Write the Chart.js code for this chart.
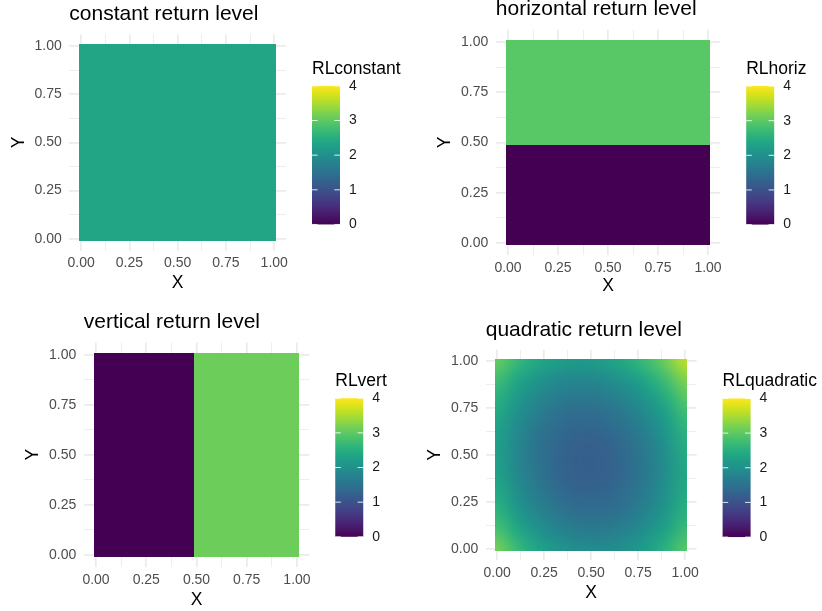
<!DOCTYPE html>
<html>
<head>
<meta charset="utf-8">
<script src="https://cdn.jsdelivr.net/npm/chart.js@4.4.1/dist/chart.umd.min.js"></script>
<style>
  html, body { margin: 0; padding: 0; background: #ffffff; }
  #wrap { position: relative; width: 822px; height: 611px; overflow: hidden; background: #ffffff; }
  #wrap canvas { position: absolute; left: 0; top: 0; }
</style>
</head>
<body>
<div id="wrap">
  <canvas id="pConst" width="822" height="611"></canvas>
  <canvas id="pHoriz" width="822" height="611"></canvas>
  <canvas id="pVert" width="822" height="611"></canvas>
  <canvas id="pQuad" width="822" height="611"></canvas>
</div>
<script>
// ---- axis breaks and labels ----
const axisBreaks = [0, 0.25, 0.5, 0.75, 1];
const axisLabels = ['0.00', '0.25', '0.50', '0.75', '1.00'];
const minorBreaks = [0.125, 0.375, 0.625, 0.875];
const rlBreaks = [0, 1, 2, 3, 4];
const rlLabels = ['0', '1', '2', '3', '4'];
const rlLimits = [0, 4];

// ---- return level data ----
const cellHalf = 0.01;            // half of the 0.02 grid spacing
const splitAt = 0.5;              // first grid value of the upper / right block
const constantRL = [2.35];
const horizRL = [0.0, 2.95];      // y below split, y from split up
const vertRL = [0.0, 3.1];        // x below split, x from split up
const quadX = [0, 0.1, 0.2, 0.3, 0.4, 0.5, 0.6, 0.7, 0.8, 0.9, 1];
const quadY = [0, 0.1, 0.2, 0.3, 0.4, 0.5, 0.6, 0.7, 0.8, 0.9, 1];
// rows run from Y = 0 up to Y = 1, columns from X = 0 to X = 1
const quadRL = [
  [3.15, 2.72, 2.37, 2.12, 1.97, 1.90, 1.93, 2.04, 2.25, 2.56, 2.95],
  [2.83, 2.41, 2.07, 1.83, 1.68, 1.62, 1.66, 1.78, 2.00, 2.31, 2.71],
  [2.59, 2.17, 1.84, 1.61, 1.46, 1.41, 1.45, 1.59, 1.81, 2.13, 2.54],
  [2.41, 1.99, 1.68, 1.45, 1.31, 1.27, 1.32, 1.46, 1.69, 2.01, 2.43],
  [2.29, 1.89, 1.58, 1.36, 1.23, 1.19, 1.25, 1.40, 1.64, 1.97, 2.39],
  [2.25, 1.85, 1.55, 1.34, 1.22, 1.19, 1.25, 1.41, 1.65, 1.99, 2.43],
  [2.27, 1.89, 1.59, 1.38, 1.27, 1.25, 1.32, 1.48, 1.74, 2.09, 2.52],
  [2.37, 1.98, 1.70, 1.50, 1.39, 1.38, 1.46, 1.63, 1.89, 2.24, 2.69],
  [2.53, 2.15, 1.87, 1.68, 1.58, 1.58, 1.66, 1.84, 2.11, 2.47, 2.93],
  [2.75, 2.39, 2.11, 1.93, 1.84, 1.84, 1.94, 2.12, 2.40, 2.77, 3.23],
  [3.05, 2.69, 2.42, 2.25, 2.17, 2.18, 2.28, 2.47, 2.75, 3.13, 3.60]
];

// ---- styling ----
const FONT = "'Liberation Sans', Arial, Helvetica, sans-serif";
const viridisStops = ['#440154', '#471365', '#482475', '#463480', '#414487', '#3b528b',
  '#355f8d', '#2f6c8e', '#2a788e', '#25848e', '#21918c', '#1e9c89', '#22a884', '#2fb47c',
  '#44bf70', '#5ec962', '#7ad151', '#9bd93c', '#bddf26', '#dfe318', '#fde725'];
const stopRGB = viridisStops.map(h => [1, 3, 5].map(i => parseInt(h.substr(i, 2), 16)));

function viridisRGB(v) {
  let t = (v - rlLimits[0]) / (rlLimits[1] - rlLimits[0]);
  t = Math.min(1, Math.max(0, t)) * (stopRGB.length - 1);
  const i = Math.min(stopRGB.length - 2, Math.floor(t));
  const f = t - i;
  return stopRGB[i].map((c, k) => Math.round(c + (stopRGB[i + 1][k] - c) * f));
}
function viridisCss(v) { const c = viridisRGB(v); return `rgb(${c[0]},${c[1]},${c[2]})`; }

// blocks of equal return level, in data coordinates
const lo = -cellHalf, hi = 1 + cellHalf, cut = splitAt - cellHalf;
const constRects = [{ x0: lo, x1: hi, y0: lo, y1: hi, v: constantRL[0] }];
const horizRects = [
  { x0: lo, x1: hi, y0: lo, y1: cut, v: horizRL[0] },
  { x0: lo, x1: hi, y0: cut, y1: hi, v: horizRL[1] }
];
const vertRects = [
  { x0: lo, x1: cut, y0: lo, y1: hi, v: vertRL[0] },
  { x0: cut, x1: hi, y0: lo, y1: hi, v: vertRL[1] }
];

// draws the raster cells through the chart's x / y scales
function heatLayer(rects, field) {
  return {
    id: 'heatLayer',
    beforeDatasetsDraw(chart) {
      const { ctx } = chart;
      const xs = chart.scales.x, ys = chart.scales.y;
      ctx.save();
      rects.forEach(r => {
        const x0 = Math.round(xs.getPixelForValue(r.x0));
        const x1 = Math.round(xs.getPixelForValue(r.x1));
        const y0 = Math.round(ys.getPixelForValue(r.y1));
        const y1 = Math.round(ys.getPixelForValue(r.y0));
        ctx.fillStyle = viridisCss(r.v);
        ctx.fillRect(x0, y0, x1 - x0, y1 - y0);
      });
      if (field) {
        const nx = field.xs.length, ny = field.ys.length;
        const off = document.createElement('canvas');
        off.width = nx; off.height = ny;
        const octx = off.getContext('2d');
        const img = octx.createImageData(nx, ny);
        for (let j = 0; j < ny; j++) {
          for (let i = 0; i < nx; i++) {
            const c = viridisRGB(field.values[ny - 1 - j][i]);
            const k = (j * nx + i) * 4;
            img.data[k] = c[0]; img.data[k + 1] = c[1]; img.data[k + 2] = c[2]; img.data[k + 3] = 255;
          }
        }
        octx.putImageData(img, 0, 0);
        const hx = (field.xs[1] - field.xs[0]) / 2, hy = (field.ys[1] - field.ys[0]) / 2;
        const left = xs.getPixelForValue(field.xs[0] - hx);
        const right = xs.getPixelForValue(field.xs[nx - 1] + hx);
        const top = ys.getPixelForValue(field.ys[ny - 1] + hy);
        const bottom = ys.getPixelForValue(field.ys[0] - hy);
        const cx0 = Math.round(xs.getPixelForValue(lo)), cx1 = Math.round(xs.getPixelForValue(hi));
        const cy0 = Math.round(ys.getPixelForValue(hi)), cy1 = Math.round(ys.getPixelForValue(lo));
        ctx.beginPath();
        ctx.rect(cx0, cy0, cx1 - cx0, cy1 - cy0);
        ctx.clip();
        ctx.imageSmoothingEnabled = true;
        ctx.imageSmoothingQuality = 'high';
        ctx.drawImage(off, left, top, right - left, bottom - top);
      }
      ctx.restore();
    }
  };
}

// colour bar legend to the right of the panel
function colourBar(title) {
  return {
    id: 'colourBar',
    afterDraw(chart) {
      const { ctx, chartArea: a } = chart;
      const barW = 28, barH = 138.6;
      const barL = a.right + 26;
      const barTop = (a.top + a.bottom) / 2 + 12.8 - barH / 2;
      const barBottom = barTop + barH;
      ctx.save();
      const g = ctx.createLinearGradient(0, barBottom, 0, barTop);
      viridisStops.forEach((c, i) => g.addColorStop(i / (viridisStops.length - 1), c));
      ctx.fillStyle = g;
      ctx.fillRect(barL, barTop, barW, barH);
      const span = rlLimits[1] - rlLimits[0];
      ctx.strokeStyle = 'rgba(255,255,255,0.85)';
      ctx.lineWidth = 1;
      ctx.font = `14px ${FONT}`;
      ctx.fillStyle = '#1a1a1a';
      ctx.textAlign = 'left';
      ctx.textBaseline = 'middle';
      rlBreaks.forEach((b, i) => {
        const y = barBottom - (b - rlLimits[0]) / span * barH;
        ctx.beginPath();
        ctx.moveTo(barL, y); ctx.lineTo(barL + barW / 5, y);
        ctx.moveTo(barL + barW * 4 / 5, y); ctx.lineTo(barL + barW, y);
        ctx.stroke();
        ctx.fillText(rlLabels[i], barL + barW + 9, y);
      });
      ctx.font = `17.5px ${FONT}`;
      ctx.fillStyle = '#000000';
      ctx.fillText(title, barL, barTop - 17);
      ctx.restore();
    }
  };
}

function axisOptions(kind, titleText, titlePad, tickPad) {
  const all = axisBreaks.concat(minorBreaks).sort((p, q) => p - q);
  return {
    type: 'linear',
    position: kind === 'x' ? 'bottom' : 'left',
    min: -0.061, max: 1.061,
    afterBuildTicks(scale) { scale.ticks = all.map(v => ({ value: v })); },
    afterFit(scale) { if (kind === 'x') scale.height = 44; else scale.width = 62; },
    ticks: {
      autoSkip: false, maxRotation: 0, minRotation: 0,
      padding: tickPad,
      color: '#4d4d4d',
      font: { family: FONT, size: 14, lineHeight: 1.2 },
      callback(value) {
        const i = axisBreaks.indexOf(value);
        return i >= 0 ? axisLabels[i] : '';
      }
    },
    grid: {
      drawTicks: false,
      color: '#ebebeb',
      lineWidth: c => (axisBreaks.indexOf(c.tick && c.tick.value) >= 0 ? 1.7 : 0.85)
    },
    border: { display: false },
    title: {
      display: true, text: titleText, color: '#000000',
      font: { family: FONT, size: 17.5, lineHeight: 1.2 },
      padding: kind === 'x' ? { top: 0, bottom: titlePad } : { top: titlePad, bottom: 0 }
    }
  };
}

// panel placement: plot area box, title centre and x-title centre in page pixels
function makePanel(id, spec) {
  const titleLH = 16.8;
  new Chart(document.getElementById(id), {
    type: 'scatter',
    data: { datasets: [] },
    options: {
      responsive: false,
      animation: false,
      events: [],
      layout: {
        padding: {
          left: spec.L - 62,
          right: 822 - spec.R,
          top: spec.titleY - titleLH / 2,
          bottom: 611 - spec.B - 44
        }
      },
      plugins: {
        legend: { display: false },
        tooltip: { enabled: false },
        title: {
          display: true, text: spec.title, align: 'start', fullSize: false,
          color: '#000000',
          font: { family: FONT, size: 21, weight: 'normal', lineHeight: titleLH / 21 },
          padding: { top: 0, bottom: spec.T - spec.titleY - titleLH / 2 }
        }
      },
      scales: {
        x: axisOptions('x', 'X', 44 - (spec.xTitleY - spec.B) - 10.5, 4.6),
        y: axisOptions('y', 'Y', 62 - (spec.L - spec.yTitleX) - 10.5, 7.5)
      }
    },
    plugins: [heatLayer(spec.rects, spec.field), colourBar(spec.legend)]
  });
}

makePanel('pConst', {
  title: 'constant return level', legend: 'RLconstant',
  L: 69.3, T: 34.2, R: 286, B: 250.5, titleY: 14.5, xTitleY: 283, yTitleX: 18.7,
  rects: constRects, field: null
});
makePanel('pHoriz', {
  title: 'horizontal return level', legend: 'RLhoriz',
  L: 495.8, T: 29.75, R: 720.2, B: 255.25, titleY: 9.3, xTitleY: 286.3, yTitleX: 445.2,
  rects: horizRects, field: null
});
makePanel('pVert', {
  title: 'vertical return level', legend: 'RLvert',
  L: 83.75, T: 342.5, R: 309.25, B: 566.9, titleY: 322.6, xTitleY: 599.7, yTitleX: 33,
  rects: vertRects, field: null
});
makePanel('pQuad', {
  title: 'quadratic return level', legend: 'RLquadratic',
  L: 485.7, T: 349.7, R: 696.6, B: 560.2, titleY: 330, xTitleY: 593.3, yTitleX: 435,
  rects: [], field: { xs: quadX, ys: quadY, values: quadRL }
});
</script>
</body>
</html>
